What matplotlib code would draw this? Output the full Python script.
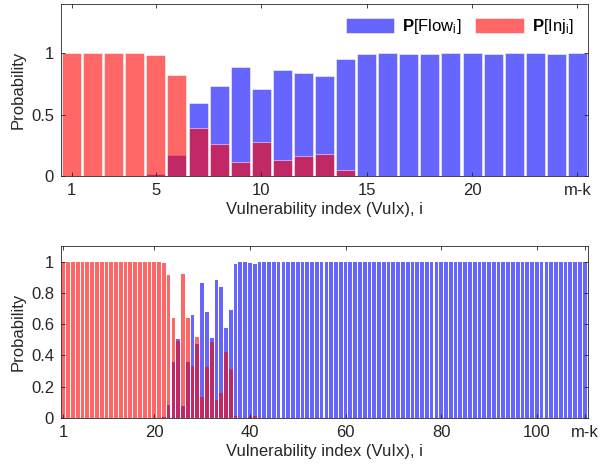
import matplotlib
matplotlib.use("Agg")
import matplotlib.pyplot as plt
import numpy as np

plt.rcParams['font.family'] = ['Liberation Sans', 'DejaVu Sans']
plt.rcParams['mathtext.fontset'] = 'custom'
plt.rcParams['mathtext.rm'] = 'Liberation Sans'
plt.rcParams['mathtext.it'] = 'Liberation Sans:italic'
plt.rcParams['mathtext.bf'] = 'Liberation Sans:bold'

# ---------------- data: top panel (25 vulnerabilities) ----------------
top_flow = [0.0, 0.0, 0.0, 0.0, 0.016, 0.175, 0.598, 0.732, 0.885, 0.710,
            0.864, 0.835, 0.818, 0.949, 0.995, 1.0, 0.99, 0.995, 1.0, 1.0,
            0.995, 1.0, 1.0, 0.995, 1.0]
top_inj = [1.0, 1.0, 1.0, 1.0, 0.984, 0.821, 0.391, 0.257, 0.113, 0.276,
           0.133, 0.163, 0.182, 0.051, 0.0, 0.0, 0.0, 0.0, 0.0, 0.0,
           0.0, 0.0, 0.0, 0.0, 0.0]
top_tick_pos = [1, 5, 10, 15, 20, 25]
top_tick_labels = ['1', '5', '10', '15', '20', 'm-k']

# ---------------- data: bottom panel (110 vulnerabilities) ----------------
bot_flow = [
    0, 0, 0, 0, 0, 0, 0, 0, 0, 0,
    0, 0, 0, 0, 0, 0, 0, 0, 0, 0,
    0, 0.005, 0.081, 0.355, 0.504, 0.077, 0.359, 0.660, 0.476, 0.863,
    0.675, 0.509, 0.885, 0.838, 0.573, 0.688, 0.987, 1.0, 1.0, 0.99,
    0.983, 1, 1, 1, 1, 1, 1, 1, 1, 1,
    1, 1, 1, 1, 1, 1, 1, 1, 1, 1,
    1, 1, 1, 1, 1, 1, 1, 1, 1, 1,
    1, 1, 1, 1, 1, 1, 1, 1, 1, 1,
    1, 1, 1, 1, 1, 1, 1, 1, 1, 1,
    1, 1, 1, 1, 1, 1, 1, 1, 1, 1,
    1, 1, 1, 1, 1, 1, 1, 1, 1, 1,
]
bot_inj = [
    1, 1, 1, 1, 1, 1, 1, 1, 1, 1,
    1, 1, 1, 1, 1, 1, 1, 1, 1, 1,
    1, 0.99, 0.915, 0.640, 0.494, 0.922, 0.637, 0.335, 0.517, 0.135,
    0.323, 0.485, 0.118, 0.160, 0.425, 0.312, 0.010, 0, 0, 0.008,
    0.010, 0, 0, 0, 0, 0, 0, 0, 0, 0,
    0, 0, 0, 0, 0, 0, 0, 0, 0, 0,
    0, 0, 0, 0, 0, 0, 0, 0, 0, 0,
    0, 0, 0, 0, 0, 0, 0, 0, 0, 0,
    0, 0, 0, 0, 0, 0, 0, 0, 0, 0,
    0, 0, 0, 0, 0, 0, 0, 0, 0, 0,
    0, 0, 0, 0, 0, 0, 0, 0, 0, 0,
]
bot_tick_pos = [1, 20, 40, 60, 80, 100, 110]
bot_tick_labels = ['1', '20', '40', '60', '80', '100', 'm-k']

xlabel = 'Vulnerability index (VuIx), i'
ylabel = 'Probability'
leg_flow = r'$\mathbf{P}\mathrm{[Flow_i]}$'
leg_inj = r'$\mathbf{P}\mathrm{[Inj_i]}$'

BLUE = (0, 0, 1)
RED = (1, 0, 0)
AXC = '#262626'
FS = 12

W, H = 614, 466
fig = plt.figure(figsize=(W / 100, H / 100), dpi=100)


def px_axes(l, t, r, b):
    return fig.add_axes([l / W, 1 - b / H, (r - l) / W, (b - t) / H])


def style(ax):
    for s in ax.spines.values():
        s.set_color(AXC)
        s.set_linewidth(0.6)
    ax.tick_params(direction='in', top=True, right=True, length=3,
                   width=0.6, color=AXC, labelsize=FS, labelcolor=AXC, pad=5)


ax1 = px_axes(61, 4, 588, 176)
x1 = np.arange(1, len(top_flow) + 1)
b1 = ax1.bar(x1, top_flow, width=0.9, color=BLUE, alpha=0.6,
             edgecolor='white', linewidth=0.6, label=leg_flow)
b2 = ax1.bar(x1, top_inj, width=0.9, color=RED, alpha=0.6,
             edgecolor='white', linewidth=0.6, label=leg_inj)
ax1.set_xlim(0.5, len(top_flow) + 0.5)
ax1.set_ylim(0, 1.4)
ax1.set_yticks([0, 0.5, 1])
ax1.set_yticklabels(['0', '0.5', '1'])
ax1.set_xticks(top_tick_pos)
ax1.set_xticklabels(top_tick_labels)
ax1.set_xlabel(xlabel, fontsize=FS, color=AXC, labelpad=3)
ax1.set_ylabel(ylabel, fontsize=FS, color=AXC, labelpad=4)
style(ax1)
leg = ax1.legend(handles=[b1, b2], ncol=2, frameon=False, loc='upper right',
                 bbox_to_anchor=(0.995, 0.99), fontsize=FS, handlelength=2.9,
                 handleheight=1.05, columnspacing=0.8, handletextpad=0.5,
                 borderaxespad=0.3)

ax2 = px_axes(61, 246, 588, 418)
x2 = np.arange(1, len(bot_flow) + 1)
ax2.bar(x2, bot_flow, width=0.78, color=BLUE, alpha=0.6, linewidth=0)
ax2.bar(x2, bot_inj, width=0.78, color=RED, alpha=0.6, linewidth=0)
ax2.set_xlim(0.5, len(bot_flow) + 0.7)
ax2.set_ylim(0, 1.1)
ax2.set_yticks([0, 0.2, 0.4, 0.6, 0.8, 1.0])
ax2.set_yticklabels(['0', '0.2', '0.4', '0.6', '0.8', '1'])
ax2.set_xticks(bot_tick_pos)
ax2.set_xticklabels(bot_tick_labels)
ax2.set_xlabel(xlabel, fontsize=FS, color=AXC, labelpad=3)
ax2.set_ylabel(ylabel, fontsize=FS, color=AXC, labelpad=4)
style(ax2)

fig.savefig('out.png', dpi=100, facecolor='white')
